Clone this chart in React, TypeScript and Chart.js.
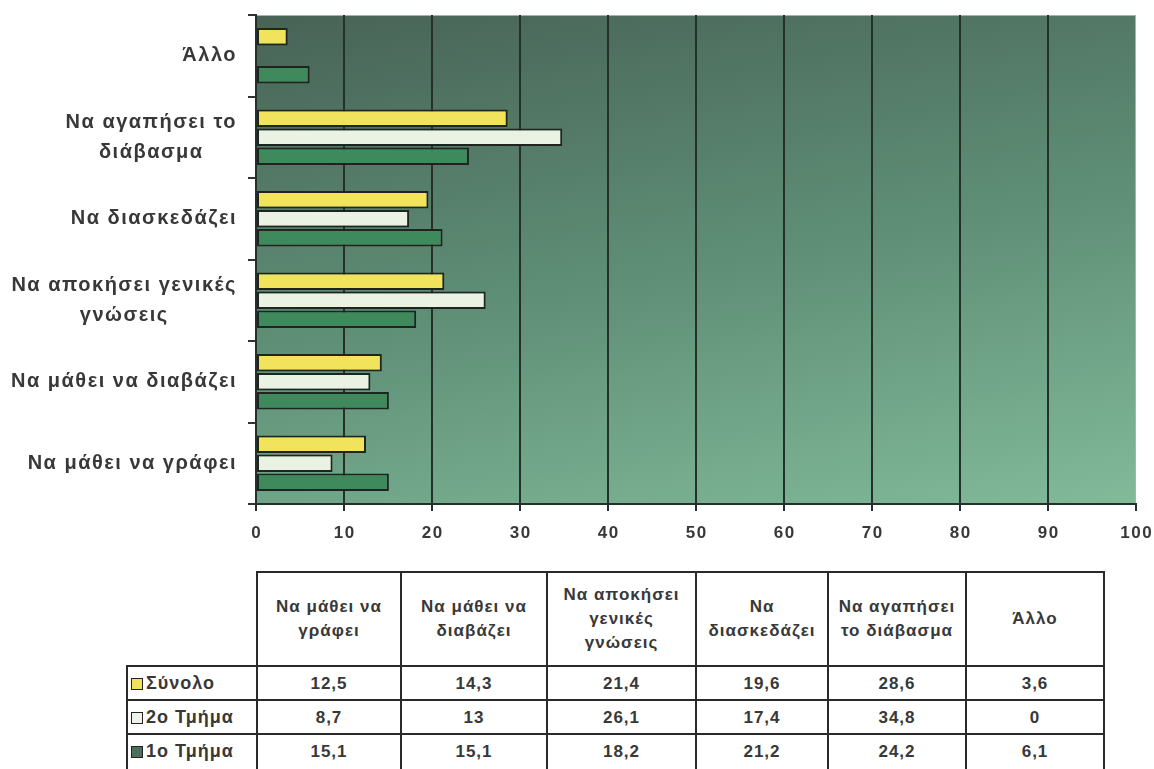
import React, { useEffect, useRef } from "react";
import { Chart, registerables } from "chart.js";

Chart.register(...registerables);

// Categories in table order (bottom of chart to top)
const categories: string[][] = [
  ["Να μάθει να γράφει"],
  ["Να μάθει να διαβάζει"],
  ["Να αποκήσει γενικές", "γνώσεις"],
  ["Να διασκεδάζει"],
  ["Να αγαπήσει το", "διάβασμα"],
  ["Άλλο"],
];
const headerLabels: string[][] = [
  ["Να μάθει να", "γράφει"],
  ["Να μάθει να", "διαβάζει"],
  ["Να αποκήσει", "γενικές", "γνώσεις"],
  ["Να", "διασκεδάζει"],
  ["Να αγαπήσει", "το διάβασμα"],
  ["Άλλο"],
];
const seriesNames = ["Σύνολο", "2ο Τμήμα", "1ο Τμήμα"];
const synolo = [12.5, 14.3, 21.4, 19.6, 28.6, 3.6];
const tmima2 = [8.7, 13, 26.1, 17.4, 34.8, 0];
const tmima1 = [15.1, 15.1, 18.2, 21.2, 24.2, 6.1];
const tableText = [
  ["12,5", "14,3", "21,4", "19,6", "28,6", "3,6"],
  ["8,7", "13", "26,1", "17,4", "34,8", "0"],
  ["15,1", "15,1", "18,2", "21,2", "24,2", "6,1"],
];
const xTicks = [0, 10, 20, 30, 40, 50, 60, 70, 80, 90, 100];

const FONT = "'Liberation Sans', Arial, sans-serif";
const TEXT = "#383838";
const barColors = ["#f2e35c", "#e9f2e3", "#3f8a5c"];
const keyColors = ["#f2e35c", "#eef3ea", "#4d6d5d"];

const bgPlugin = {
  id: "bgPlugin",
  beforeDraw(chart: any) {
    const { ctx, chartArea } = chart;
    const { left, top, right, bottom } = chartArea;
    const g = ctx.createLinearGradient(left, top, left + 117, top + 632);
    g.addColorStop(0, "#486356");
    g.addColorStop(0.5, "#5e8e76");
    g.addColorStop(1, "#82ba9a");
    ctx.save();
    ctx.fillStyle = g;
    ctx.fillRect(left, top, right - left, bottom - top);
    ctx.strokeStyle = "#a9b3ae";
    ctx.lineWidth = 1;
    ctx.beginPath();
    ctx.moveTo(left, top + 0.5);
    ctx.lineTo(right, top + 0.5);
    ctx.moveTo(right - 0.5, top);
    ctx.lineTo(right - 0.5, bottom);
    ctx.stroke();
    ctx.restore();
  },
};

const labelPlugin = {
  id: "labelPlugin",
  afterDraw(chart: any) {
    const { ctx } = chart;
    const yScale = chart.scales.y;
    const xScale = chart.scales.x;
    const labels: string[][] = chart.data.labels;
    ctx.save();
    ctx.font = `bold 20px ${FONT}`;
    (ctx as any).letterSpacing = "1.5px";
    ctx.fillStyle = TEXT;
    ctx.textBaseline = "middle";
    ctx.textAlign = "left";
    const rightEdge = 237;
    const lh = 30;
    labels.forEach((lines, i) => {
      const cy = yScale.getPixelForValue(i);
      const widths = lines.map((l) => ctx.measureText(l).width);
      const w = Math.max(...widths);
      const cx = rightEdge - w / 2;
      const y0 = cy - ((lines.length - 1) * lh) / 2;
      lines.forEach((l, j) => ctx.fillText(l, cx - widths[j] / 2, y0 + j * lh));
    });
    ctx.font = `bold 17px ${FONT}`;
    (ctx as any).letterSpacing = "1.5px";
    xTicks.forEach((v) => {
      const px = xScale.getPixelForValue(v);
      const t = String(v);
      const w = ctx.measureText(t).width - 1.5;
      ctx.fillText(t, px - w / 2, 533);
    });
    ctx.restore();
  },
};

function ChartCanvas() {
  const ref = useRef<HTMLCanvasElement>(null);
  useEffect(() => {
    if (!ref.current) return;
    const rev = <T,>(a: T[]) => a.slice().reverse();
    const data = [synolo, tmima2, tmima1];
    const chart = new Chart(ref.current, {
      type: "bar",
      data: {
        labels: rev(categories) as any,
        datasets: data.map((d, i) => ({
          label: seriesNames[i],
          data: rev(d),
          backgroundColor: barColors[i],
          borderColor: "#1f2420",
          borderWidth: 2,
          borderSkipped: false,
          categoryPercentage: 0.7,
          barPercentage: 0.93,
        })),
      },
      options: {
        indexAxis: "y",
        animation: false,
        responsive: true,
        maintainAspectRatio: false,
        layout: { padding: { top: 15, right: 18, left: 0, bottom: 0 } },
        plugins: { legend: { display: false }, tooltip: { enabled: false } },
        scales: {
          x: {
            min: 0,
            max: 100,
            afterBuildTicks: (s: any) => {
              s.ticks = xTicks.map((v) => ({ value: v }));
            },
            afterFit: (s: any) => {
              s.height = 56;
            },
            ticks: { display: false },
            grid: {
              color: (c: any) => (c.tick && c.tick.value === 100 ? "rgba(0,0,0,0)" : "#26302b"),
              lineWidth: 2,
              tickLength: 7,
              tickColor: "#26302b",
            },
            border: { color: "#26302b", width: 2 },
          },
          y: {
            afterFit: (s: any) => {
              s.width = 256;
            },
            ticks: { display: false },
            grid: {
              offset: true,
              drawOnChartArea: false,
              tickLength: 8,
              color: "#333",
              lineWidth: 2,
            },
            border: { color: "#26302b", width: 2 },
          },
        },
      },
      plugins: [bgPlugin, labelPlugin],
    } as any);
    return () => chart.destroy();
  }, []);
  return (
    <div style={{ position: "absolute", left: 0, top: 0, width: 1154, height: 560 }}>
      <canvas ref={ref} />
    </div>
  );
}

function DataTable() {
  const colW = [130, 144, 146, 149, 132, 138, 138];
  const rowH = [34, 34, 38];
  const border = "2px solid #2a2a2a";
  const cellFont: React.CSSProperties = {
    fontFamily: FONT,
    fontWeight: "bold",
    fontSize: 17,
    letterSpacing: "1px",
    color: TEXT,
  };
  return (
    <table
      style={{
        position: "absolute",
        left: 126,
        top: 571,
        borderCollapse: "collapse",
        tableLayout: "fixed",
        width: colW.reduce((a, b) => a + b, 0),
      }}
    >
      <colgroup>
        {colW.map((w, i) => (
          <col key={i} style={{ width: w }} />
        ))}
      </colgroup>
      <tbody>
        <tr style={{ height: 94 }}>
          <td style={{ border: "none", padding: 0 }} />
          {headerLabels.map((lines, i) => (
            <td
              key={i}
              style={{ ...cellFont, border, textAlign: "center", verticalAlign: "middle", padding: 0, lineHeight: "24px" }}
            >
              {lines.map((l, j) => (
                <div key={j}>{l}</div>
              ))}
            </td>
          ))}
        </tr>
        {seriesNames.map((name, r) => (
          <tr key={r} style={{ height: rowH[r] }}>
            <td
              style={{
                ...cellFont,
                fontSize: 18,
                border,
                padding: "0 0 0 3px",
                whiteSpace: "nowrap",
                lineHeight: "25px",
                verticalAlign: r === 2 ? "top" : "middle",
                paddingTop: r === 2 ? 4 : 0,
              }}
            >
              <span
                style={{
                  display: "inline-block",
                  width: 10,
                  height: 10,
                  background: keyColors[r],
                  border: "1.5px solid #222",
                  marginRight: 3,
                  verticalAlign: "-1px",
                }}
              />
              {name}
            </td>
            {tableText[r].map((t, c) => (
              <td
                key={c}
                style={{
                  ...cellFont,
                  border,
                  textAlign: "center",
                  padding: 0,
                  lineHeight: "25px",
                  verticalAlign: r === 2 ? "top" : "middle",
                  paddingTop: r === 2 ? 4 : 0,
                }}
              >
                {t}
              </td>
            ))}
          </tr>
        ))}
      </tbody>
    </table>
  );
}

export default function App() {
  return (
    <div
      style={{
        position: "fixed",
        left: 0,
        top: 0,
        width: 1154,
        height: 769,
        overflow: "hidden",
        background: "#fff",
      }}
    >
      <ChartCanvas />
      <DataTable />
    </div>
  );
}
